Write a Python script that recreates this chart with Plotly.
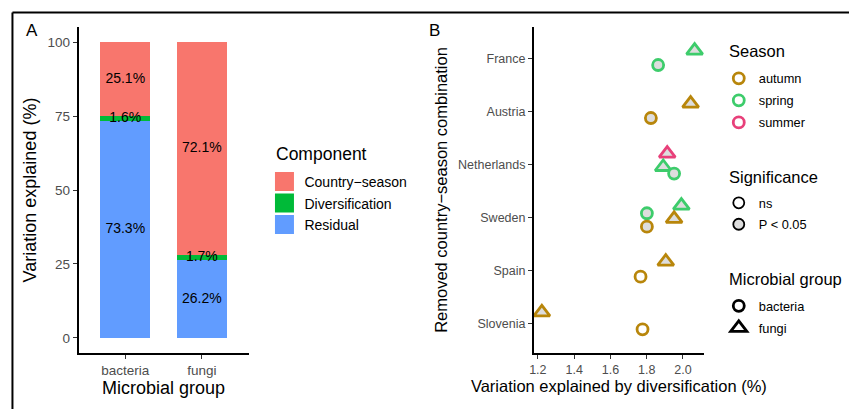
import plotly.graph_objects as go

# ---------------- Panel A data ----------------
groups = ["bacteria", "fungi"]
residual = [73.3, 26.2]
diversification = [1.6, 1.7]
country_season = [25.1, 72.1]
components = ["Country\u2212season", "Diversification", "Residual"]

# ---------------- Panel B data ----------------
countries = ["Slovenia", "Spain", "Sweden", "Netherlands", "Austria", "France"]
pt_country = ["France", "France", "Austria", "Austria",
              "Netherlands", "Netherlands", "Netherlands",
              "Sweden", "Sweden", "Sweden", "Sweden",
              "Spain", "Spain", "Slovenia", "Slovenia"]
pt_season = ["spring", "spring", "autumn", "autumn",
             "summer", "spring", "spring",
             "spring", "spring", "autumn", "autumn",
             "autumn", "autumn", "autumn", "autumn"]
pt_group = ["fungi", "bacteria", "fungi", "bacteria",
            "fungi", "fungi", "bacteria",
            "fungi", "bacteria", "fungi", "bacteria",
            "fungi", "bacteria", "fungi", "bacteria"]
pt_sig = ["P < 0.05", "P < 0.05", "P < 0.05", "P < 0.05",
          "P < 0.05", "P < 0.05", "P < 0.05",
          "P < 0.05", "P < 0.05", "P < 0.05", "P < 0.05",
          "P < 0.05", "ns", "P < 0.05", "ns"]
pt_value = [2.064, 1.863, 2.042, 1.823,
            1.913, 1.891, 1.951,
            1.991, 1.801, 1.951, 1.801,
            1.905, 1.766, 1.222, 1.777]
pt_jitter = [0.144, -0.127, 0.146, -0.127,
             0.203, -0.051, -0.176,
             0.222, 0.076, -0.030, -0.176,
             0.163, -0.121, 0.208, -0.114]

seasons = ["autumn", "spring", "summer"]
sig_levels = ["ns", "P < 0.05"]

# ---------------- styles ----------------
FONT = "Liberation Sans, Arial, sans-serif"
comp_colors = {"Country\u2212season": "#F8766D", "Diversification": "#00BA38", "Residual": "#619CFF"}
season_colors = {"autumn": "#B8860B", "spring": "#3DCC6B", "summer": "#E8407A"}
sig_fill = {"ns": "white", "P < 0.05": "#DDDDDD"}
group_symbol = {"bacteria": "circle", "fungi": "triangle-up"}
group_size = {"bacteria": 11, "fungi": 14}

W, H = 849, 409
def px(x):
    return x / W
def py(y):
    return 1 - y / H

fig = go.Figure()

# Panel A stacked bars (bottom to top)
for name, vals in [("Residual", residual), ("Diversification", diversification),
                   ("Country\u2212season", country_season)]:
    fig.add_trace(go.Bar(x=groups, y=vals, name=name, width=0.65,
                         marker=dict(color=comp_colors[name], line=dict(width=0)),
                         xaxis="x", yaxis="y", showlegend=False,
                         hoverinfo="skip"))

# legend entries for the components (square keys)
for name in components:
    fig.add_trace(go.Scatter(x=[None], y=[None], mode="markers", name=name,
                             xaxis="x", yaxis="y", legend="legend", legendgroup=name,
                             marker=dict(symbol="square", size=16, color=comp_colors[name],
                                         line=dict(color=comp_colors[name], width=3))))

# bar labels at segment midpoints
lab_x, lab_y, lab_t = [], [], []
for i, g in enumerate(groups):
    base = 0
    for vals in (residual, diversification, country_season):
        lab_x.append(g)
        lab_y.append(base + vals[i] / 2)
        lab_t.append(f"{vals[i]:.1f}%")
        base += vals[i]
fig.add_trace(go.Scatter(x=lab_x, y=lab_y, text=lab_t, mode="text",
                         textfont=dict(family=FONT, size=14, color="black"),
                         showlegend=False, xaxis="x", yaxis="y", hoverinfo="skip"))

# Panel B points
yvals = [countries.index(c) + 1 + j for c, j in zip(pt_country, pt_jitter)]
fig.add_trace(go.Scatter(
    x=pt_value, y=yvals, mode="markers", showlegend=False,
    xaxis="x2", yaxis="y2", cliponaxis=False,
    marker=dict(symbol=[group_symbol[g] for g in pt_group],
                size=[group_size[g] for g in pt_group],
                color=[sig_fill[s] for s in pt_sig], opacity=1,
                line=dict(color=[season_colors[s] for s in pt_season], width=2.8))))

# legend-only traces for panel B
for s in seasons:
    fig.add_trace(go.Scatter(x=[None], y=[None], mode="markers", name=s,
                             xaxis="x2", yaxis="y2", legend="legend2", legendgroup=s,
                             marker=dict(symbol="circle", size=11, color="white",
                                         line=dict(color=season_colors[s], width=2.8))))
for s in sig_levels:
    fig.add_trace(go.Scatter(x=[None], y=[None], mode="markers", name=s,
                             xaxis="x2", yaxis="y2", legend="legend3", legendgroup=s,
                             marker=dict(symbol="circle", size=11, color=sig_fill[s],
                                         line=dict(color="black", width=1.8))))
for g in groups:
    fig.add_trace(go.Scatter(x=[None], y=[None], mode="markers", name=g,
                             xaxis="x2", yaxis="y2", legend="legend4", legendgroup=g,
                             marker=dict(symbol=group_symbol[g], size=group_size[g],
                                         color="white",
                                         line=dict(color="black", width=2.8))))

axis_common = dict(showline=True, linecolor="black", linewidth=1.8, ticks="outside",
                   ticklen=4, tickwidth=1.4, tickcolor="#333333", showgrid=False,
                   zeroline=False, mirror=False)

legend_common = dict(bgcolor="rgba(0,0,0,0)", xanchor="left", yanchor="top",
                     itemclick=False, itemdoubleclick=False)

def title_note(text, x, y, size):
    return dict(text=text, x=px(x), y=py(y), xref="paper", yref="paper",
                xanchor="left", yanchor="middle", showarrow=False,
                font=dict(size=size, color="black"))

fig.update_layout(
    width=W, height=H, margin=dict(l=0, r=0, t=0, b=0),
    paper_bgcolor="white", plot_bgcolor="white",
    font=dict(family=FONT, color="black"),
    barmode="stack",
    xaxis=dict(domain=[px(74), px(245)], anchor="y", type="category",
               range=[-0.61, 1.61],
               tickfont=dict(size=13.5, color="#4D4D4D"),
               title=dict(text="Microbial group", font=dict(size=18), standoff=4),
               **axis_common),
    yaxis=dict(domain=[py(353), py(27)], anchor="x", range=[-5.1, 105.1],
               tickvals=[0, 25, 50, 75, 100],
               tickfont=dict(size=13.5, color="#4D4D4D"),
               title=dict(text="Variation explained (%)", font=dict(size=18), standoff=6),
               **axis_common),
    xaxis2=dict(domain=[px(532), px(703)], anchor="y2", range=[1.178, 2.115],
                tickvals=[1.2, 1.4, 1.6, 1.8, 2.0], ticktext=["1.2", "1.4", "1.6", "1.8", "2.0"],
                tickfont=dict(size=12.5, color="#4D4D4D"),
                title=dict(text="Variation explained by diversification (%)",
                           font=dict(size=16.5), standoff=4),
                **axis_common),
    yaxis2=dict(domain=[py(353), py(27)], anchor="x2", range=[0.44, 6.59],
                tickvals=list(range(1, len(countries) + 1)), ticktext=countries,
                tickfont=dict(size=12.5, color="#4D4D4D"),
                title=dict(text="Removed country\u2212season combination",
                           font=dict(size=16.5), standoff=6),
                **axis_common),
    legend=dict(x=px(261), y=py(166), font=dict(size=14), tracegroupgap=0.3,
                **legend_common),
    legend2=dict(x=px(718), y=py(63.5), font=dict(size=12.8), tracegroupgap=2.4,
                 **legend_common),
    legend3=dict(x=px(718), y=py(188), font=dict(size=12.8), tracegroupgap=1.8,
                 **legend_common),
    legend4=dict(x=px(718), y=py(291), font=dict(size=12.8), tracegroupgap=2.4,
                 **legend_common),
    annotations=[
        dict(text="A", x=px(19), y=py(19), xref="paper", yref="paper", xanchor="left",
             yanchor="top", showarrow=False, font=dict(size=17, color="black")),
        dict(text="B", x=px(425), y=py(19), xref="paper", yref="paper", xanchor="left",
             yanchor="top", showarrow=False, font=dict(size=17, color="black")),
        title_note("Component", 271, 154, 17.5),
        title_note("Season", 726, 50.5, 16.5),
        title_note("Significance", 726, 176.5, 16.5),
        title_note("Microbial group", 726, 278.5, 16.5),
    ],
    shapes=[
        dict(type="line", xref="paper", yref="paper", x0=px(7.5), x1=1, y0=py(12.5), y1=py(12.5),
             line=dict(color="black", width=2)),
        dict(type="line", xref="paper", yref="paper", x0=px(7.5), x1=px(7.5), y0=py(12.5), y1=0,
             line=dict(color="black", width=2)),
    ],
)

fig.write_html("out.html", config={"displayModeBar": False},
               post_script="document.body.style.margin='0';document.body.style.overflow='hidden';")
